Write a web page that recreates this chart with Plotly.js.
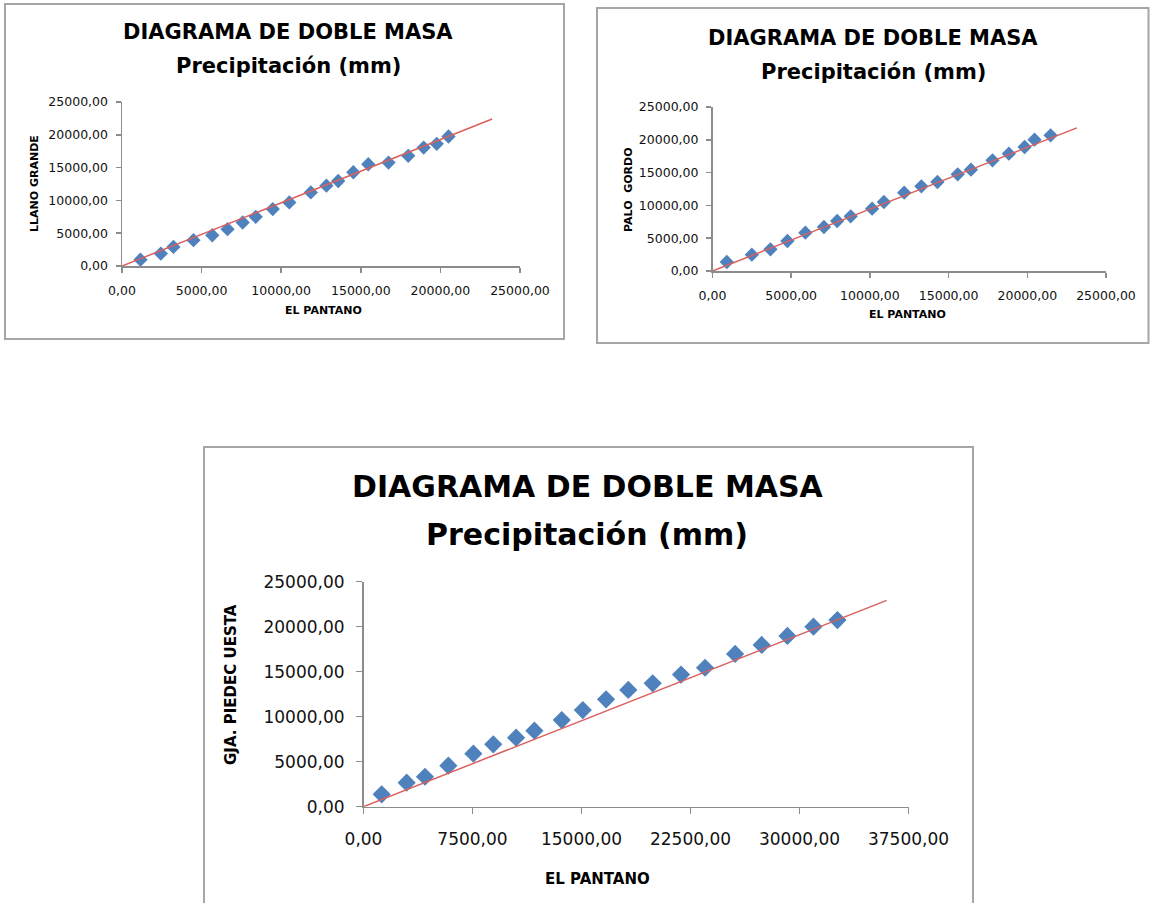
<!DOCTYPE html>
<html>
<head>
<meta charset="utf-8">
<script src="https://cdn.plot.ly/plotly-3.0.1.min.js"></script>
<style>html,body{margin:0;padding:0;background:#fff;}#chart{width:1150px;height:903px;}</style>
</head>
<body>
<div id="chart"></div>
<script>
// ---- Data ----
const titleLine1 = "DIAGRAMA DE DOBLE MASA";
const titleLine2 = "Precipitación (mm)";
const xTitle = "EL PANTANO";
const yTitle1 = "LLANO GRANDE";
const yTitle2 = "PALO  GORDO";
const yTitle3 = "GJA. PIEDEC UESTA";

const pantano1 = [1160, 2440, 3230, 4490, 5670, 6630, 7580, 8400, 9470, 10510, 11860, 12840, 13580, 14530, 15470, 16740, 17980, 18950, 19770, 20510];
const llanoGrande = [970, 1890, 2910, 3930, 4690, 5610, 6630, 7500, 8670, 9690, 11220, 12240, 12960, 14290, 15510, 15770, 16790, 18060, 18620, 19740];
const trend1X = [0, 23250];
const trend1Y = [0, 22400];

const pantano2 = [910, 2500, 3680, 4760, 5900, 7080, 7920, 8780, 10140, 10890, 12180, 13270, 14290, 15580, 16420, 17790, 18830, 19830, 20460, 21480];
const paloGordo = [1370, 2490, 3300, 4570, 5840, 6710, 7620, 8330, 9500, 10520, 11940, 12910, 13570, 14740, 15450, 16870, 17890, 18900, 20020, 20680];
const trend2X = [0, 23150];
const trend2Y = [0, 21820];

const pantano3 = [1250, 2970, 4230, 5840, 7560, 8930, 10500, 11760, 13640, 15090, 16690, 18220, 19900, 21850, 23500, 25570, 27400, 29170, 30960, 32610];
const piedecuesta = [1380, 2670, 3330, 4560, 5890, 6930, 7670, 8450, 9630, 10740, 11930, 12970, 13710, 14680, 15440, 16970, 17970, 18970, 20000, 20740];
const trend3X = [0, 36000];
const trend3Y = [0, 22930];

// ---- Layout helpers (pixel -> paper) ----
const W = 1150, H = 903;
const px = v => v / W;
const py = v => 1 - v / H;

const markerColor = '#4F81BD';
const trendColor = '#D9605E';
const axisColor = '#8C8C8C';
const tickFont = 'DejaVu Sans, sans-serif';
const boldFont = 'DejaVu Sans, sans-serif';

function pts(x, y, xa, ya, size) {
  return {x: x, y: y, xaxis: xa, yaxis: ya, type: 'scatter', mode: 'markers',
    marker: {symbol: 'diamond', color: markerColor, size: size, line: {width: 0}},
    hoverinfo: 'x+y', showlegend: false};
}
function trend(x, y, xa, ya) {
  return {x: x, y: y, xaxis: xa, yaxis: ya, type: 'scatter', mode: 'lines',
    line: {color: trendColor, width: 1.5}, hoverinfo: 'skip', showlegend: false};
}

const data = [
  pts(pantano1, llanoGrande, 'x', 'y', 11), trend(trend1X, trend1Y, 'x', 'y'),
  pts(pantano2, paloGordo, 'x2', 'y2', 11), trend(trend2X, trend2Y, 'x2', 'y2'),
  pts(pantano3, piedecuesta, 'x3', 'y3', 14), trend(trend3X, trend3Y, 'x3', 'y3')
];

function xax(domain, range, dtick, anchor, fs, tl, so) {
  return {domain: domain, range: range, dtick: dtick, tick0: 0, anchor: anchor,
    showgrid: false, zeroline: false, showline: true, linecolor: axisColor, linewidth: 1.5,
    ticks: 'outside', ticklen: tl, tickwidth: 1.5, tickcolor: axisColor,
    tickformat: '.2f', ticklabelstandoff: so,
    tickfont: {family: tickFont, size: fs, color: '#111'}, fixedrange: true};
}

const layout = {
  width: W, height: H,
  margin: {l: 0, r: 0, t: 0, b: 0},
  paper_bgcolor: '#fff', plot_bgcolor: 'rgba(0,0,0,0)',
  separators: ',.',
  showlegend: false,
  xaxis:  xax([px(122), px(520)], [0, 25000], 5000, 'y', 12.5, 5, 7),
  yaxis:  xax([py(266), py(102)], [0, 25000], 5000, 'x', 12.5, 5, 5),
  xaxis2: xax([px(712.5), px(1106)], [0, 25000], 5000, 'y2', 12.5, 5, 7),
  yaxis2: xax([py(271), py(107)], [0, 25000], 5000, 'x2', 12.5, 5, 5),
  xaxis3: xax([px(363.5), px(908.5)], [0, 37500], 7500, 'y3', 17, 6, 10),
  yaxis3: xax([py(806.7), py(581.7)], [0, 25000], 5000, 'x3', 17, 6, 8),
  shapes: [
    {type: 'rect', xref: 'paper', yref: 'paper', x0: px(5), x1: px(564), y0: py(339), y1: py(4),
      line: {color: '#A6A6A6', width: 2}, fillcolor: 'rgba(0,0,0,0)', layer: 'below'},
    {type: 'rect', xref: 'paper', yref: 'paper', x0: px(597), x1: px(1148.5), y0: py(343), y1: py(8),
      line: {color: '#A6A6A6', width: 2}, fillcolor: 'rgba(0,0,0,0)', layer: 'below'},
    {type: 'rect', xref: 'paper', yref: 'paper', x0: px(204), x1: px(973), y0: py(915), y1: py(447),
      line: {color: '#A6A6A6', width: 2}, fillcolor: 'rgba(0,0,0,0)', layer: 'below'}
  ],
  annotations: []
};

function ann(text, x, y, size, angle) {
  layout.annotations.push({text: text, xref: 'paper', yref: 'paper', x: px(x), y: py(y),
    xanchor: 'center', yanchor: 'middle', showarrow: false, textangle: angle || 0,
    font: {family: boldFont, size: size, color: '#000', weight: 'bold'}});
}
// chart 1
ann('<b>' + titleLine1 + '</b>', 288, 32, 21);
ann('<b>' + titleLine2 + '</b>', 288, 66, 21);
ann('<b>' + xTitle + '</b>', 323, 310, 11);
ann('<b>' + yTitle1 + '</b>', 35, 184, 11, -90);
// chart 2
ann('<b>' + titleLine1 + '</b>', 873, 38, 21);
ann('<b>' + titleLine2 + '</b>', 873, 72, 21);
ann('<b>' + xTitle + '</b>', 907, 314, 11);
ann('<b>' + yTitle2 + '</b>', 628, 190, 11, -90);
// chart 3
ann('<b>' + titleLine1 + '</b>', 588, 486, 30);
ann('<b>' + titleLine2 + '</b>', 587, 534, 30);
ann('<b>' + xTitle + '</b>', 597, 879, 15);
ann('<b>' + yTitle3 + '</b>', 231, 685, 15, -90);

Plotly.newPlot('chart', data, layout, {displayModeBar: false, staticPlot: true});
</script>
</body>
</html>
